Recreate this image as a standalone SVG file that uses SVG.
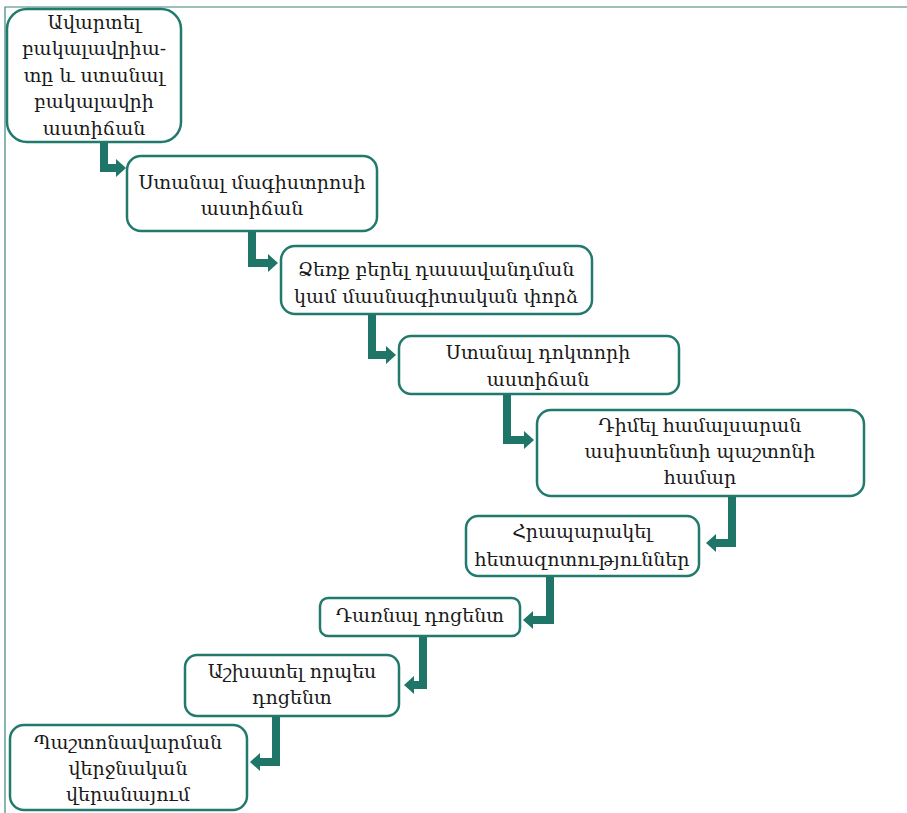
<svg xmlns="http://www.w3.org/2000/svg" width="907" height="813" viewBox="0 0 907 813">
<style>
.box{fill:#fff;stroke:#227a6d;stroke-width:2.5}
.t{font-family:"DejaVu Serif",serif;font-size:19px;fill:#1a1a1a;text-anchor:middle}
.c{fill:none;stroke:#1f7568;stroke-width:8;stroke-linejoin:miter}
.frame{stroke:#3c8279;stroke-width:1.2;fill:none}
</style>
<defs>
<marker id="ah" markerUnits="userSpaceOnUse" markerWidth="10" markerHeight="18" viewBox="0 0 10 18" refX="0" refY="9" orient="auto">
<path d="M0,0 L10,9 L0,18 z" fill="#1f7568"/>
</marker>
</defs>
<path class="frame" d="M5,813 V7 H907"/>
<g id="connectors">
<path class="c" d="M104,143 V168 H116" marker-end="url(#ah)"/>
<path class="c" d="M252,231 V263 H268" marker-end="url(#ah)"/>
<path class="c" d="M372,314 V355 H386" marker-end="url(#ah)"/>
<path class="c" d="M507,394 V440 H524" marker-end="url(#ah)"/>
<path class="c" d="M732,497 V543 H716" marker-end="url(#ah)"/>
<path class="c" d="M550,577 V620 H533" marker-end="url(#ah)"/>
<path class="c" d="M423,636 V685 H414" marker-end="url(#ah)"/>
<path class="c" d="M276,716 V762 H260" marker-end="url(#ah)"/>
</g>
<g id="n1"><rect class="box" x="7" y="9" width="174" height="133" rx="20"/>
<text class="t"><tspan x="94" y="29">Ավարտել</tspan><tspan x="94" y="55">բակալավրիա-</tspan><tspan x="94" y="82">տը և ստանալ</tspan><tspan x="94" y="108">բակալավրի</tspan><tspan x="94" y="135">աստիճան</tspan></text></g>
<g id="n2"><rect class="box" x="127" y="156" width="250" height="75" rx="14"/>
<text class="t"><tspan x="252" y="189">Ստանալ մագիստրոսի</tspan><tspan x="252" y="215">աստիճան</tspan></text></g>
<g id="n3"><rect class="box" x="281" y="246" width="311" height="68" rx="14"/>
<text class="t"><tspan x="436" y="276">Ձեռք բերել դասավանդման</tspan><tspan x="436" y="303">կամ մասնագիտական փորձ</tspan></text></g>
<g id="n4"><rect class="box" x="399" y="336" width="280" height="58" rx="12"/>
<text class="t"><tspan x="538" y="359">Ստանալ դոկտորի</tspan><tspan x="538" y="386">աստիճան</tspan></text></g>
<g id="n5"><rect class="box" x="537" y="410" width="327" height="86" rx="14"/>
<text class="t"><tspan x="700" y="432">Դիմել համալսարան</tspan><tspan x="700" y="458">ասիստենտի պաշտոնի</tspan><tspan x="700" y="484">համար</tspan></text></g>
<g id="n6"><rect class="box" x="466" y="516" width="233" height="60" rx="12"/>
<text class="t"><tspan x="582" y="538">Հրապարակել</tspan><tspan x="582" y="566">հետազոտություններ</tspan></text></g>
<g id="n7"><rect class="box" x="320" y="598" width="200" height="38" rx="8"/>
<text class="t"><tspan x="420" y="622">Դառնալ դոցենտ</tspan></text></g>
<g id="n8"><rect class="box" x="185" y="655" width="214" height="61" rx="12"/>
<text class="t"><tspan x="292" y="678">Աշխատել որպես</tspan><tspan x="292" y="704">դոցենտ</tspan></text></g>
<g id="n9"><rect class="box" x="10" y="725" width="237" height="85" rx="14"/>
<text class="t"><tspan x="128" y="749">Պաշտոնավարման</tspan><tspan x="128" y="775">վերջնական</tspan><tspan x="128" y="801">վերանայում</tspan></text></g>
</svg>
